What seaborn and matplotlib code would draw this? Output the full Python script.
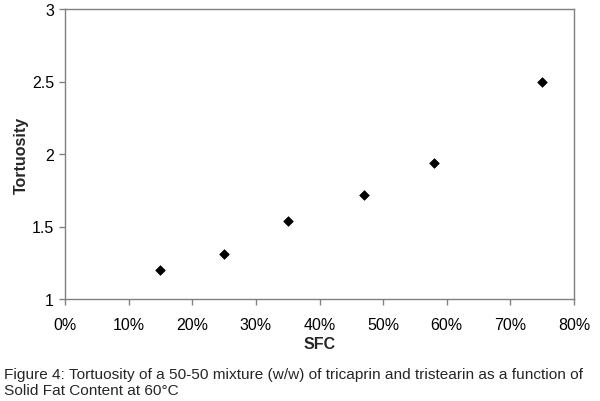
import matplotlib
matplotlib.use("Agg")
import matplotlib.pyplot as plt
import seaborn as sns
import pandas as pd
from matplotlib.ticker import FuncFormatter

sfc = [0.15, 0.25, 0.35, 0.47, 0.58, 0.75]
tortuosity = [1.20, 1.31, 1.54, 1.72, 1.94, 2.50]
x_ticks = [0, 0.1, 0.2, 0.3, 0.4, 0.5, 0.6, 0.7, 0.8]
y_ticks = [1, 1.5, 2, 2.5, 3]
caption = ("Figure 4: Tortuosity of a 50-50 mixture (w/w) of tricaprin and tristearin as a function of\n"
           "Solid Fat Content at 60°C")

sns.set_theme(style="white")
plt.rcParams['font.family'] = ['Liberation Sans', 'DejaVu Sans']

df = pd.DataFrame({"SFC": sfc, "Tortuosity": tortuosity})

fig = plt.figure(figsize=(6, 4.02), dpi=100)
ax = fig.add_axes([65/600, 1 - 300/402, (574-65)/600, (300-10)/402])
sns.scatterplot(data=df, x="SFC", y="Tortuosity", marker="D", s=24,
                color="black", edgecolor="black", linewidth=0.5, ax=ax)

ax.set_xlim(0, 0.8)
ax.set_ylim(1, 3)
ax.set_xticks(x_ticks)
ax.set_yticks(y_ticks)
ax.xaxis.set_major_formatter(FuncFormatter(lambda v, p: f"{v*100:.0f}%"))
ax.yaxis.set_major_formatter(FuncFormatter(lambda v, p: f"{v:g}"))
for s in ax.spines.values():
    s.set_color("#808080")
    s.set_linewidth(1.0)
ax.tick_params(axis="both", which="major", direction="out", length=4, width=1,
               color="#808080", labelsize=11.5, labelcolor="black", pad=4, bottom=True, left=True)
ax.tick_params(axis="x", pad=9)
ax.set_xlabel("SFC", fontsize=11.5, fontweight="bold", labelpad=3)
ax.set_ylabel("Tortuosity", fontsize=11.5, fontweight="bold", labelpad=2)

fig.text(4/600, 1 - 383/402, caption, fontsize=11.1, ha="left", va="center", linespacing=1.2)

fig.savefig("out.png", dpi=100)
